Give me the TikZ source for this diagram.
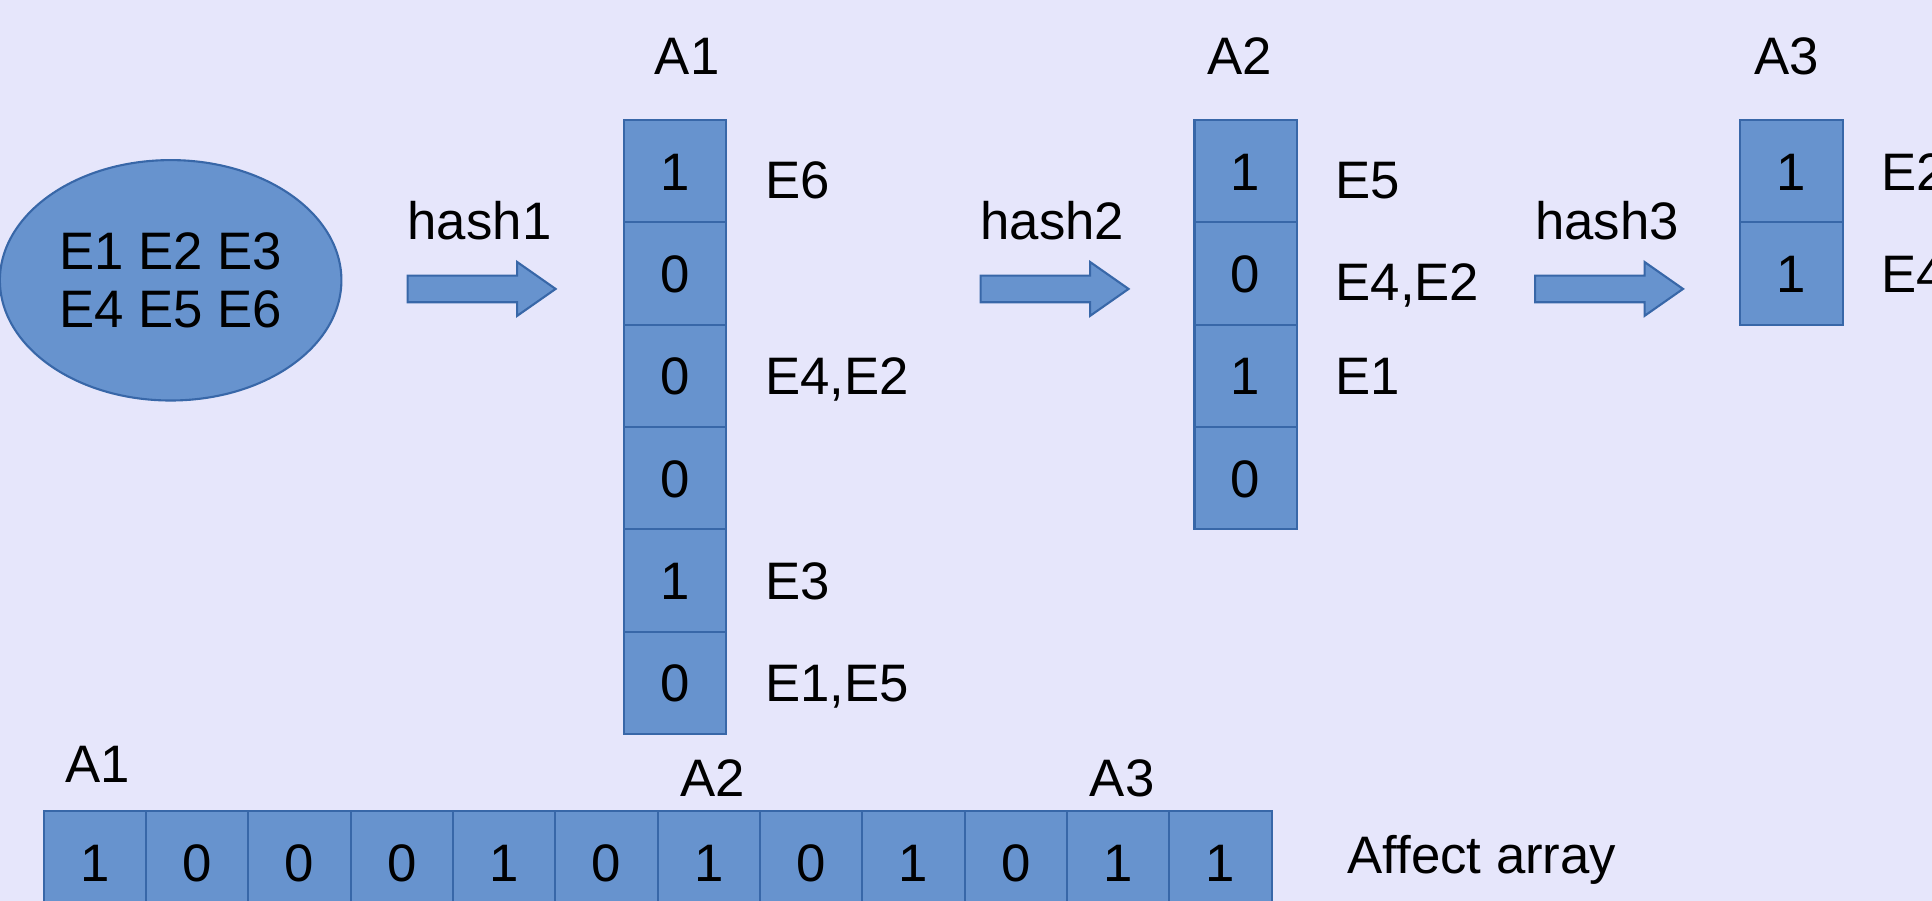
\documentclass[tikz,border=0pt]{standalone}
\usepackage{fontspec}
\setmainfont{Liberation Sans}
\usepackage{tikz}
\usetikzlibrary{calc}
\usetikzlibrary{shapes.geometric,shapes.arrows}
\usetikzlibrary{matrix,positioning}
\definecolor{bg}{RGB}{230,230,251}
\definecolor{cellblue}{RGB}{103,147,206}
\definecolor{edgeblue}{RGB}{56,103,168}

\begin{document}
\begin{tikzpicture}[x=0.012321cm,y=-0.012321cm,
    every node/.style={font=\fontsize{15pt}{16.5pt}\selectfont},
    bit/.style={draw=edgeblue,fill=cellblue,line width=0.6pt,minimum width=1.0227cm,
      minimum height=1.0227cm,inner sep=0pt,text height=10.7pt,text depth=0pt},
    bits/.style={matrix of nodes,nodes={bit},inner sep=0pt,row sep=-0.6pt,column sep=-0.6pt},
    lbl/.style={inner sep=0pt,text height=10.7pt,text depth=0pt},
    blockarrow/.style={single arrow,draw=edgeblue,fill=cellblue,line width=0.6pt,
      minimum height=1.4785cm,minimum width=0.5175cm,single arrow head extend=0.1355cm,
      single arrow tip angle=70,inner xsep=0pt,inner ysep=0.123cm,anchor=tail}]
      \useasboundingbox (0,0) rectangle (1568,731);
      \fill[bg] (0,0) rectangle (1568,731);
      \node[ellipse,draw=edgeblue,fill=cellblue,line width=0.6pt,minimum width=3.413cm,
        minimum height=2.4026cm,inner sep=0pt,align=center] (set) at (138.5,227.5)
        {E1 E2 E3\\E4 E5 E6};
      \node[blockarrow] (h1) at (330,234.5) {};
      \node[blockarrow] (h2) at (795,234.5) {};
      \node[blockarrow] (h3) at (1245,234.5) {};
      \node[lbl, above=0.487cm of {$(h1.tail)!0.5!(h1.tip)$}, xshift=-0.025cm] {hash1};
      \node[lbl, above=0.487cm of {$(h2.tail)!0.5!(h2.tip)$}, xshift=-0.025cm] {hash2};
      \node[lbl, above=0.487cm of {$(h3.tail)!0.5!(h3.tip)$}, xshift=-0.025cm] {hash3};
      \matrix (A1) [bits, anchor=north west] at (505,96) {
        1\\ 0\\ 0\\ 0\\ 1\\ 0\\
      };
      \matrix (A2) [bits, anchor=north west] at (968,96) {
        1\\ 0\\ 1\\ 0\\
      };
      \matrix (A3) [bits, anchor=north west] at (1411,96) {
        1\\ 1\\
      };
      \matrix (aff) [bits, anchor=north west, ampersand replacement=\&] at (34,657) {
        1 \& 0 \& 0 \& 0 \& 1 \& 0 \& 1 \& 0 \& 1 \& 0 \& 1 \& 1\\
      };
      \node[lbl, above=0.4275cm of A1, xshift=0.12cm]  {A1};
      \node[lbl, above=0.4275cm of A2, xshift=-0.06cm] {A2};
      \node[lbl, above=0.4275cm of A3, xshift=-0.05cm] {A3};
      \node[lbl, right=0.37cm of A1-1-1, yshift=-0.086cm] {E6};
      \node[lbl, right=0.37cm of A1-3-1] {E4,E2};
      \node[lbl, right=0.37cm of A1-5-1] {E3};
      \node[lbl, right=0.37cm of A1-6-1] {E1,E5};
      \node[lbl, right=0.37cm of A2-1-1, yshift=-0.086cm] {E5};
      \node[lbl, right=0.37cm of A2-2-1, yshift=-0.086cm] {E4,E2};
      \node[lbl, right=0.37cm of A2-3-1] {E1};
      \node[lbl, right=0.37cm of A3-1-1] {E2};
      \node[lbl, right=0.37cm of A3-2-1] {E4};
      \node[lbl, above=0.267cm of aff-1-1, xshift=0.03cm]  {A1};
      \node[lbl, above=0.132cm of aff-1-7, xshift=0.04cm]  {A2};
      \node[lbl, above=0.132cm of aff-1-11, xshift=0.04cm] {A3};
      \node[lbl, right=0.74cm of aff-1-12, yshift=0.074cm] {Affect array};
    \end{tikzpicture}
\end{document}
